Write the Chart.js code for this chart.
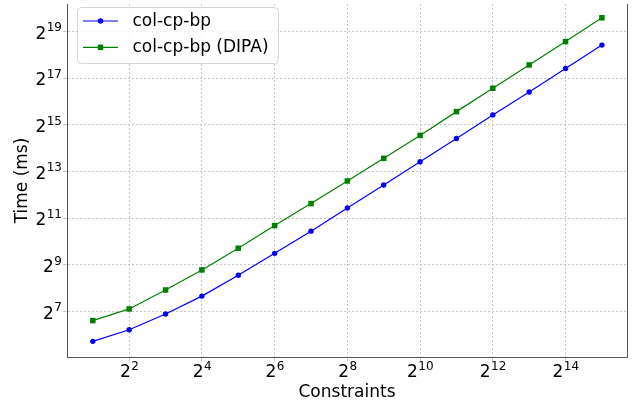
<!DOCTYPE html>
<html>
<head>
<meta charset="utf-8">
<script src="https://cdn.jsdelivr.net/npm/chart.js@4"></script>
<style>
  html, body { margin: 0; padding: 0; background: #fff; }
  #wrap { width: 642px; height: 408px; }
</style>
</head>
<body>
<div id="wrap"><canvas id="chart"></canvas></div>
<script>
"use strict";

// data (x = number of constraints, y = time in ms)
const constraints = [2, 4, 8, 16, 32, 64, 128, 256, 512, 1024, 2048, 4096, 8192, 16384, 32768];
const timeColCpBp = [52.7, 74.5, 118.6, 202, 375, 719, 1389, 2759, 5480, 10885, 21770, 43840, 86470, 174150, 348300];
const timeDipa = [97.7, 138.1, 242.2, 439.6, 837.6, 1640, 3148, 6165, 12077, 23822, 48310, 96620, 193240, 386500, 783700];
const seriesNames = ['col-cp-bp', 'col-cp-bp (DIPA)'];
const xTickValues = [4, 16, 64, 256, 1024, 4096, 16384];
const yTickValues = [128, 512, 2048, 8192, 32768, 131072, 524288];

const FONT = 'DejaVu Sans';
const gridColor = '#b8b8b8';
const spineColor = '#555';

function superscriptTicks(ctx, scale, vertical){
  const area = scale.chart.chartArea;
  ctx.save();
  ctx.fillStyle = '#000';
  ctx.textBaseline = 'alphabetic';
  for (const t of scale.ticks) {
    const p = scale.getPixelForValue(t.value);
    const exp = String(Math.round(Math.log2(t.value)));
    ctx.font = '17px ' + FONT;
    const wBase = ctx.measureText('2').width;
    ctx.font = '12px ' + FONT;
    const wExp = ctx.measureText(exp).width;
    let x0, yBase;
    if (vertical) {
      x0 = area.left - 5.5 - wBase - wExp;
      yBase = p + 7.3;
    } else {
      x0 = p - (wBase + wExp) / 2;
      yBase = 377;
    }
    ctx.font = '17px ' + FONT;
    ctx.textAlign = 'left';
    ctx.fillText('2', x0, yBase);
    ctx.font = '12px ' + FONT;
    ctx.fillText(exp, x0 + wBase + 0.5, yBase - 7.5);
  }
  ctx.restore();
}

const extrasPlugin = {
  id: 'extras',
  afterDraw(chart){
    const ctx = chart.ctx;
    const a = chart.chartArea;
    superscriptTicks(ctx, chart.scales.x, false);
    superscriptTicks(ctx, chart.scales.y, true);

    // right spine
    ctx.save();
    ctx.strokeStyle = spineColor;
    ctx.lineWidth = 1;
    ctx.beginPath();
    ctx.moveTo(a.right + 0.5, a.top);
    ctx.lineTo(a.right + 0.5, a.bottom);
    ctx.stroke();
    ctx.restore();

    // legend
    const bx = 77, by = 7, bw = 201, bh = 56;
    ctx.save();
    ctx.beginPath();
    ctx.roundRect(bx + 0.5, by + 0.5, bw, bh, 4);
    ctx.fillStyle = 'rgba(255,255,255,0.8)';
    ctx.fill();
    ctx.strokeStyle = '#d6d6d6';
    ctx.lineWidth = 1;
    ctx.stroke();
    chart.data.datasets.forEach((ds, i) => {
      const y = 21 + i * 26.3;
      ctx.strokeStyle = ds.borderColor;
      ctx.lineWidth = ds.borderWidth;
      ctx.beginPath();
      ctx.moveTo(83, y);
      ctx.lineTo(118, y);
      ctx.stroke();
      ctx.fillStyle = ds.backgroundColor;
      if (ds.pointStyle === 'rect') {
        ctx.fillRect(100.5 - 2.75, y - 2.75, 5.5, 5.5);
      } else {
        ctx.beginPath();
        ctx.arc(100.5, y, ds.pointRadius, 0, Math.PI * 2);
        ctx.fill();
      }
      ctx.fillStyle = '#000';
      ctx.font = '17px ' + FONT;
      ctx.textAlign = 'left';
      ctx.textBaseline = 'middle';
      ctx.fillText(ds.label, 132.5, y + 0.5);
    });
    ctx.restore();
  }
};

const ctx = document.getElementById('chart');
new Chart(ctx, {
  type: 'line',
  data: {
    datasets: [
      {
        label: seriesNames[0],
        data: constraints.map((c, i) => ({x: c, y: timeColCpBp[i]})),
        borderColor: '#0000ff',
        backgroundColor: '#0000ff',
        borderWidth: 1.2,
        pointStyle: 'circle',
        pointRadius: 2.7,
        pointBorderWidth: 0,
        tension: 0
      },
      {
        label: seriesNames[1],
        data: constraints.map((c, i) => ({x: c, y: timeDipa[i]})),
        borderColor: '#008000',
        backgroundColor: '#008000',
        borderWidth: 1.2,
        pointStyle: 'rect',
        pointRadius: 3.9,
        pointBorderWidth: 0,
        tension: 0
      }
    ]
  },
  options: {
    responsive: true,
    maintainAspectRatio: false,
    animation: false,
    devicePixelRatio: 1,
    layout: { padding: { top: 0, right: 15, left: 0, bottom: 0 } },
    plugins: {
      legend: { display: false },
      tooltip: { enabled: false }
    },
    scales: {
      x: {
        type: 'logarithmic',
        min: Math.pow(2, 0.29),
        max: Math.pow(2, 15.69),
        afterBuildTicks(scale){ scale.ticks = xTickValues.map(v => ({value: v})); },
        afterFit(scale){ scale.height = 51; },
        ticks: { display: false },
        grid: { color: gridColor, lineWidth: 0.8, tickLength: 4, tickColor: gridColor },
        border: { display: true, color: spineColor, width: 1, dash: [2, 2] },
        title: { display: true, text: 'Constraints', color: '#000', font: { family: FONT, size: 17 }, padding: { top: 0, bottom: 5 } }
      },
      y: {
        type: 'logarithmic',
        min: Math.pow(2, 5.05),
        max: Math.pow(2, 20.17),
        afterBuildTicks(scale){ scale.ticks = yTickValues.map(v => ({value: v})); },
        afterFit(scale){ scale.width = 67; },
        ticks: { display: false },
        grid: { color: gridColor, lineWidth: 0.8, tickLength: 4, tickColor: gridColor },
        border: { display: true, color: spineColor, width: 1, dash: [2, 2] },
        title: { display: true, text: 'Time (ms)', color: '#000', font: { family: FONT, size: 17 }, padding: { top: 12, bottom: 0 } }
      }
    }
  },
  plugins: [extrasPlugin]
});
</script>
</body>
</html>
